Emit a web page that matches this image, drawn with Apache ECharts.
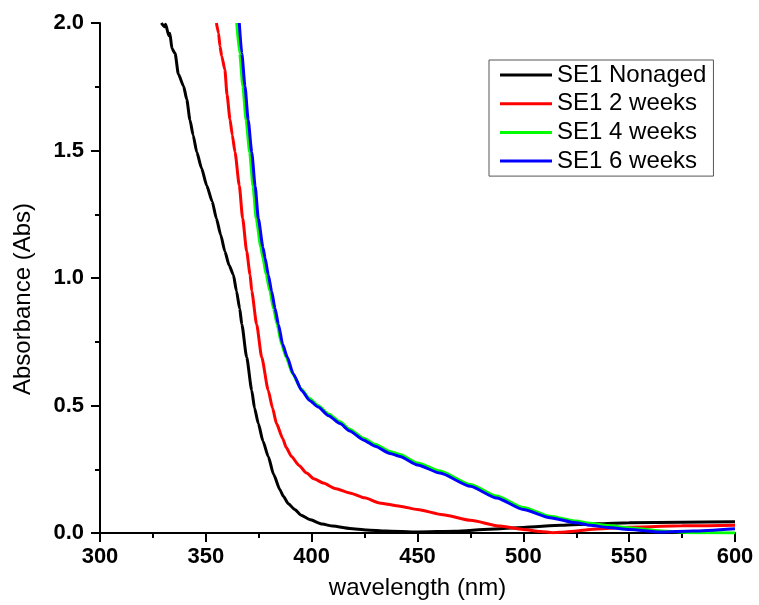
<!DOCTYPE html>
<html>
<head>
<meta charset="utf-8">
<script src="https://cdn.jsdelivr.net/npm/echarts@6/dist/echarts.min.js"></script>
<style>
html,body{margin:0;padding:0;background:#fff;}
#chart{width:759px;height:605px;}
</style>
</head>
<body>
<div id="chart"></div>
<script>
var seriesNames = ['SE1 Nonaged', 'SE1 2 weeks', 'SE1 4 weeks', 'SE1 6 weeks'];
var xTicks = [300, 350, 400, 450, 500, 550, 600];
var yTicks = [0.0, 0.5, 1.0, 1.5, 2.0];

var nonagedX = [329, 330.5, 331, 332.5, 333, 334, 335.5, 337, 339.5, 341, 342.5, 344, 345.7, 348, 350.4, 353, 355, 357, 359, 361, 363, 364.5, 366, 367, 369.3, 371.7, 373, 374.8, 377, 379.5, 382, 385, 386.6, 389, 392, 395, 399, 405, 410, 418, 426, 435, 450, 468, 484, 500, 518, 535, 550, 575, 600];
var nonagedA = [2.0, 1.985, 1.995, 1.95, 1.96, 1.9, 1.88, 1.80, 1.752, 1.70, 1.62, 1.56, 1.494, 1.43, 1.363, 1.30, 1.233, 1.17, 1.104, 1.05, 1.013, 0.948, 0.88, 0.818, 0.689, 0.559, 0.49, 0.429, 0.36, 0.30, 0.23, 0.17, 0.144, 0.115, 0.092, 0.07, 0.053, 0.035, 0.027, 0.018, 0.012, 0.008, 0.004, 0.007, 0.015, 0.022, 0.03, 0.036, 0.04, 0.042, 0.044];

var weeks2X = [355, 356, 356.7, 357.5, 359, 360, 361.4, 362.5, 363.8, 365.8, 367.4, 369.3, 370.9, 371.7, 374, 376.4, 379.5, 381.5, 383.4, 386.3, 388, 390.5, 394, 397.6, 401, 405.5, 411, 418, 425, 432, 441.7, 450, 462, 475, 489, 500, 508, 514, 520, 525, 531.5, 550, 575, 600];
var weeks2A = [2.0, 1.96, 1.908, 1.87, 1.817, 1.72, 1.623, 1.56, 1.493, 1.363, 1.233, 1.104, 1.013, 0.948, 0.818, 0.689, 0.559, 0.49, 0.429, 0.371, 0.335, 0.30, 0.265, 0.235, 0.213, 0.196, 0.175, 0.157, 0.138, 0.118, 0.105, 0.092, 0.072, 0.05, 0.027, 0.014, 0.006, 0.001, 0.004, 0.008, 0.014, 0.023, 0.028, 0.03];

var weeks4X = [364.6, 366, 367.5, 369, 370.7, 372.3, 373.8, 376, 377, 378.5, 380.3, 382, 383.7, 385.8, 388, 391, 395, 399, 403, 408, 413.4, 418, 424.4, 430, 437, 441.7, 450, 460.6, 475, 487.4, 500, 512.6, 525, 531.5, 540, 550, 565, 580, 600];
var weeks4A = [2.0, 1.88, 1.752, 1.62, 1.493, 1.36, 1.233, 1.12, 1.078, 1.013, 0.948, 0.88, 0.818, 0.74, 0.689, 0.624, 0.565, 0.527, 0.50, 0.467, 0.436, 0.407, 0.372, 0.348, 0.32, 0.308, 0.275, 0.243, 0.19, 0.145, 0.10, 0.066, 0.047, 0.038, 0.029, 0.021, 0.008, 0.001, 0.0];

var weeks6X = [365.8, 367, 368.5, 370, 371.7, 373.3, 374.8, 377, 378, 379.5, 381.1, 382.7, 384.3, 386.3, 388.5, 391.3, 395.3, 399, 403.1, 408, 413.4, 418, 424.4, 430, 437, 441.7, 450, 460.6, 475, 487.4, 500, 512.6, 525, 531.5, 540, 550, 564.6, 580, 600];
var weeks6A = [2.0, 1.88, 1.752, 1.62, 1.493, 1.36, 1.233, 1.12, 1.078, 1.013, 0.948, 0.88, 0.818, 0.74, 0.689, 0.624, 0.559, 0.52, 0.494, 0.46, 0.429, 0.40, 0.365, 0.34, 0.312, 0.30, 0.267, 0.235, 0.183, 0.137, 0.092, 0.06, 0.04, 0.030, 0.022, 0.014, 0.004, 0.008, 0.017];

var colors = ['#000000', '#ff0000', '#00ff00', '#0000ff'];

function pairs(xs, ys) {
  return xs.map(function (x, i) { return [x, ys[i]]; });
}
var allX = [nonagedX, weeks2X, weeks4X, weeks6X];
var allA = [nonagedA, weeks2A, weeks4A, weeks6A];

var chart = echarts.init(document.getElementById('chart'), null, {renderer: 'canvas'});
var font = 'Arial, "Liberation Sans", sans-serif';
var option = {
  animation: false,
  backgroundColor: '#ffffff',
  grid: {left: 100, right: 24, top: 23, bottom: 68, containLabel: false},
  legend: {
    orient: 'vertical',
    left: 489,
    top: 60,
    padding: [3, 7, 3, 11],
    itemGap: 4.7,
    itemWidth: 52,
    itemHeight: 3,
    icon: 'rect',
    borderColor: '#555555',
    borderWidth: 1,
    backgroundColor: '#ffffff',
    textStyle: {fontFamily: font, fontSize: 24, color: '#000', lineHeight: 24},
    data: seriesNames
  },
  xAxis: {
    type: 'value',
    min: xTicks[0],
    max: xTicks[xTicks.length - 1],
    interval: 50,
    name: 'wavelength (nm)',
    nameLocation: 'middle',
    nameGap: 43,
    nameTextStyle: {fontFamily: font, fontSize: 24, color: '#000'},
    axisLine: {onZero: false, lineStyle: {color: '#000', width: 2}},
    axisTick: {show: true, inside: false, length: 9, lineStyle: {color: '#000', width: 2}},
    minorTick: {show: true, splitNumber: 2, length: 5, lineStyle: {color: '#000', width: 2}},
    axisLabel: {fontFamily: font, fontSize: 22, fontWeight: 'bold', color: '#000', margin: 13, showMinLabel: true, showMaxLabel: true},
    splitLine: {show: false}
  },
  yAxis: {
    type: 'value',
    min: yTicks[0],
    max: yTicks[yTicks.length - 1],
    interval: 0.5,
    name: 'Absorbance (Abs)',
    nameLocation: 'middle',
    nameGap: 65,
    nameTextStyle: {fontFamily: font, fontSize: 24, color: '#000', padding: [0, 42, 0, 0]},
    axisLine: {show: true, onZero: false, lineStyle: {color: '#000', width: 2}},
    axisTick: {show: true, inside: false, length: 9, lineStyle: {color: '#000', width: 2}},
    minorTick: {show: true, splitNumber: 2, length: 5, lineStyle: {color: '#000', width: 2}},
    axisLabel: {fontFamily: font, fontSize: 22, fontWeight: 'bold', color: '#000', margin: 16,
      formatter: function (v) { return v.toFixed(1); }},
    splitLine: {show: false}
  },
  series: seriesNames.map(function (name, i) {
    return {
      name: name,
      type: 'line',
      data: pairs(allX[i], allA[i]),
      showSymbol: false,
      symbol: 'none',
      smooth: 0.2,
      smoothMonotone: 'x',
      clip: true,
      color: colors[i],
      lineStyle: {color: colors[i], width: 3},
      z: 2 + i
    };
  })
};
chart.setOption(option);
</script>
</body>
</html>
